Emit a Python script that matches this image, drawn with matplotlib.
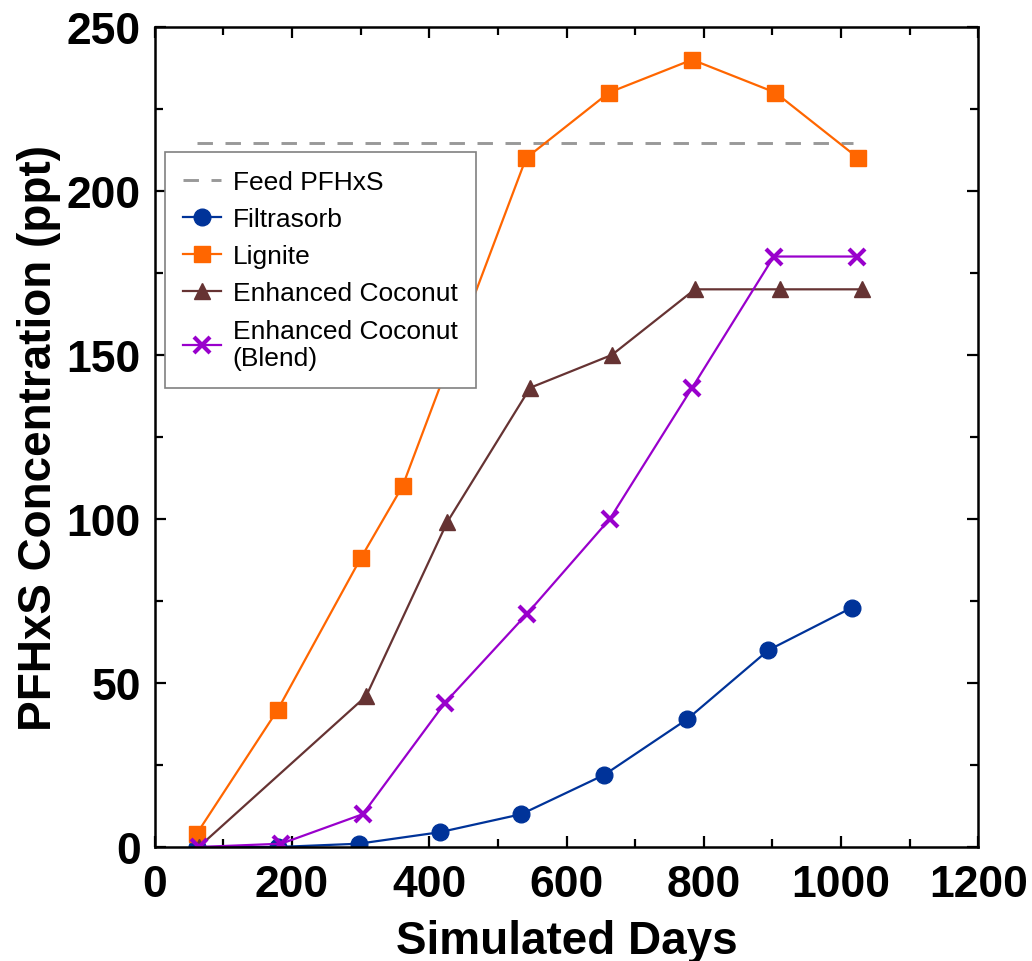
import numpy as np
import matplotlib
matplotlib.use("Agg")
from matplotlib import pyplot as plt
from matplotlib.ticker import MultipleLocator

plt.rc('font', family=['Liberation Sans', 'DejaVu Sans'])

feed_days = [61, 1018]
feed_conc = [214.6, 214.6]

filt_days = [61, 179, 297, 415, 534, 655, 776, 894, 1016]
filt_conc = [0, 0, 1, 4.5, 10, 22, 39, 60, 73]

lig_days = [61, 179, 300, 361, 541, 662, 783, 904, 1025]
lig_conc = [4, 41.8, 88, 110, 210, 230, 240, 230, 210]

coco_days = [64, 308, 426, 547, 666, 787, 911, 1031]
coco_conc = [0, 46, 99, 140, 150, 170, 170, 170]

blend_days = [64, 184, 303, 423, 542, 663, 783, 902, 1023]
blend_conc = [0, 1, 10, 44, 71, 100, 140, 180, 180]

fig = plt.figure(figsize=(10.32, 9.62), dpi=100)
ax = fig.add_axes([0.150, 0.1185, 0.798, 0.8525])

ax.plot(feed_days, feed_conc, ls=(0, (5.3, 4.3)), color='#999999', lw=2.1, label='Feed PFHxS')
ax.plot(filt_days, filt_conc, '-o', color='#003399', lw=1.6, ms=12, label='Filtrasorb')
ax.plot(lig_days, lig_conc, '-s', color='#FF6600', lw=1.6, ms=12, label='Lignite')
ax.plot(coco_days, coco_conc, '-^', color='#663333', lw=1.6, ms=11, label='Enhanced Coconut')
ax.plot(blend_days, blend_conc, '-x', color='#9900CC', lw=1.6, ms=11, mew=3,
        label='Enhanced Coconut\n(Blend)')

ax.set_xlim(0, 1200)
ax.set_ylim(0, 250)
ax.xaxis.set_major_locator(MultipleLocator(200))
ax.xaxis.set_minor_locator(MultipleLocator(100))
ax.yaxis.set_major_locator(MultipleLocator(50))
ax.yaxis.set_minor_locator(MultipleLocator(25))
ax.tick_params(which='both', direction='in', top=True, right=True, width=1.6)
ax.tick_params(which='major', length=8, labelsize=32)
ax.tick_params(which='minor', length=6)
ax.tick_params(axis='x', which='major', pad=12)
ax.tick_params(axis='y', which='major', pad=10)
for lbl in ax.get_xticklabels() + ax.get_yticklabels():
    lbl.set_fontweight('bold')
for s in ax.spines.values():
    s.set_linewidth(1.8)

ax.set_xlabel("Simulated Days", fontsize=33, fontweight='bold', labelpad=10)
ax.set_ylabel("PFHxS Concentration (ppt)", fontsize=33, fontweight='bold', labelpad=4)

leg = ax.legend(loc='upper left', bbox_to_anchor=(0.012, 0.8476), borderaxespad=0,
                fontsize=19, fancybox=False, edgecolor='#808080', framealpha=1,
                handlelength=1.45, handletextpad=0.45, borderpad=0.68,
                labelspacing=0.5)
leg.get_frame().set_linewidth(1.2)

plt.savefig("out.png", dpi=100)
